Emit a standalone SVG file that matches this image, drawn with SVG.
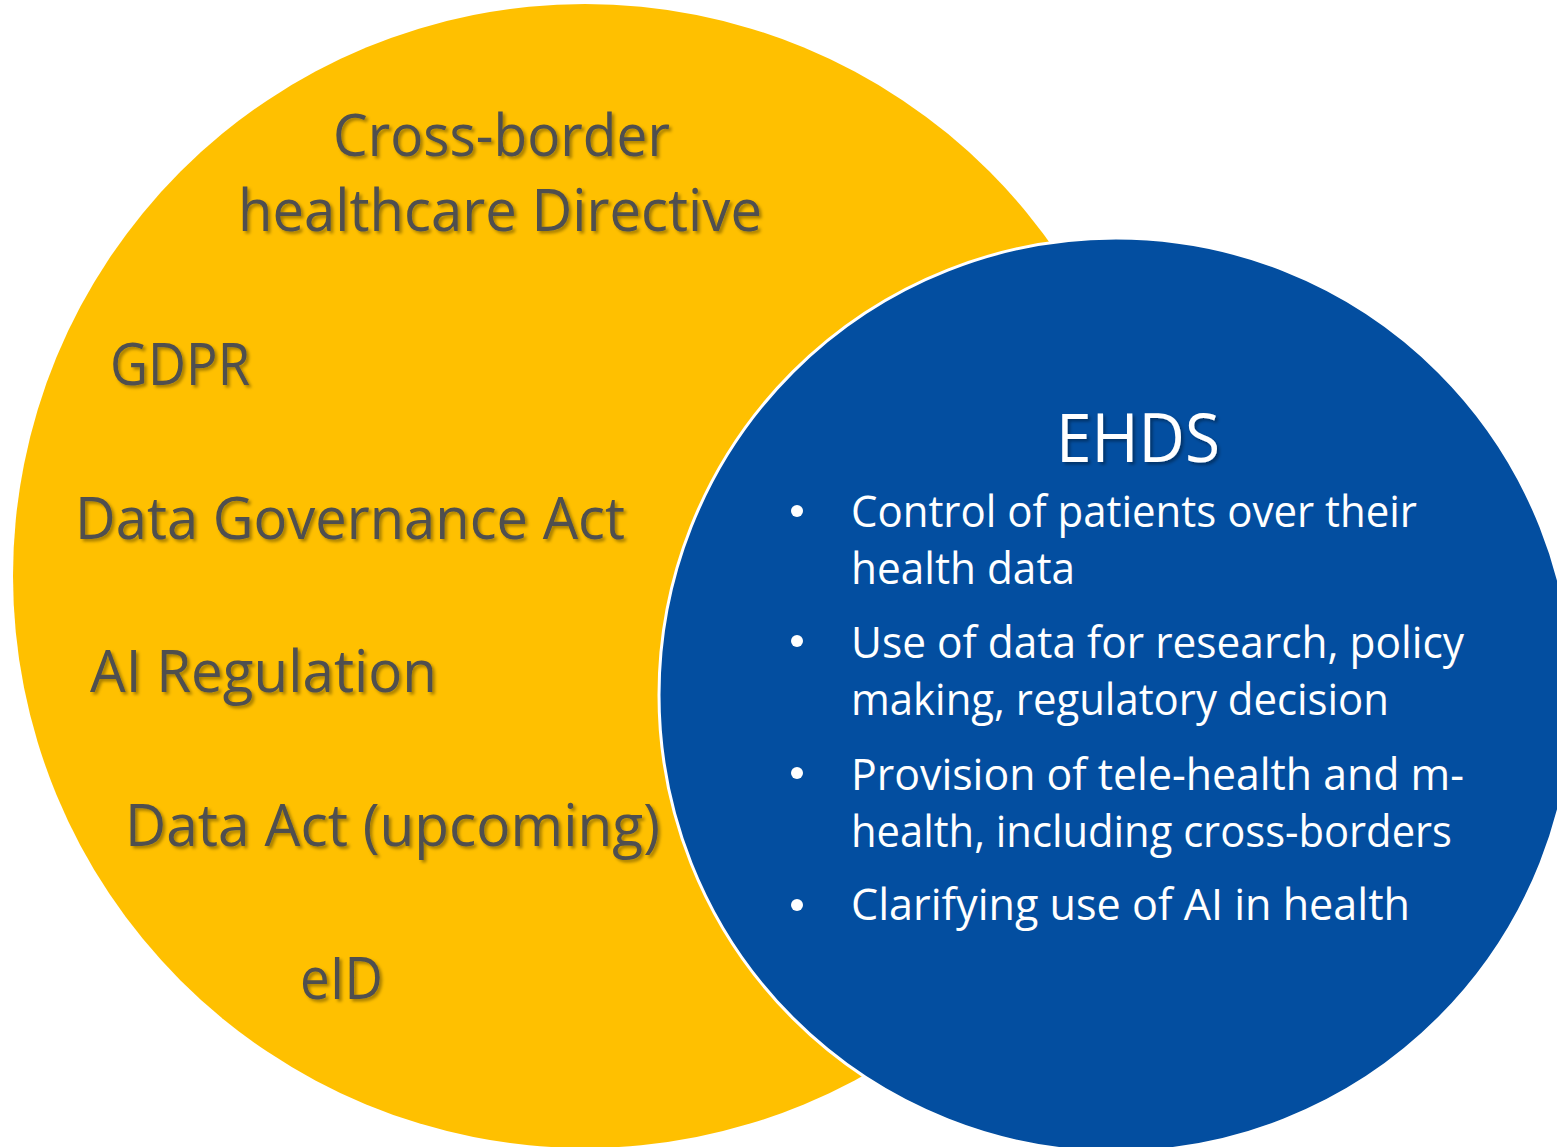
<svg xmlns="http://www.w3.org/2000/svg" width="1557" height="1147" viewBox="0 0 1557 1147">
<defs>
<filter id="sh" x="-10%" y="-30%" width="120%" height="160%">
<feDropShadow dx="2.5" dy="2.5" stdDeviation="1.5" flood-color="#000" flood-opacity="0.35"/>
</filter>
<style>
.y{font-family:"Open Sans","Liberation Sans",sans-serif;font-size:58px;fill:#4f4f4f;filter:url(#sh)}
.b{font-family:"Open Sans","Liberation Sans",sans-serif;font-size:44px;fill:#ffffff}
.t{font-family:"Open Sans","Liberation Sans",sans-serif;font-size:68px;fill:#ffffff;filter:url(#sh)}
</style>
</defs>
<rect width="1557" height="1147" fill="#ffffff"/>
<g id="yellow">
<circle cx="585" cy="576" r="572" fill="#FFC000"/>
<text class="y" x="333" y="156" textLength="337" lengthAdjust="spacingAndGlyphs">Cross-border</text>
<text class="y" x="238" y="231" textLength="524" lengthAdjust="spacingAndGlyphs">healthcare Directive</text>
<text class="y" x="110" y="385" textLength="140" lengthAdjust="spacingAndGlyphs">GDPR</text>
<text class="y" x="75" y="539" textLength="550" lengthAdjust="spacingAndGlyphs">Data Governance Act</text>
<text class="y" x="90" y="692" textLength="347" lengthAdjust="spacingAndGlyphs">AI Regulation</text>
<text class="y" x="125" y="846" textLength="535" lengthAdjust="spacingAndGlyphs">Data Act (upcoming)</text>
<text class="y" x="300" y="999" textLength="83" lengthAdjust="spacingAndGlyphs">eID</text>
</g>
<g id="blue">
<circle cx="1116" cy="695" r="457" fill="#034EA0" stroke="#ffffff" stroke-width="3"/>
<text class="t" x="1056" y="462" textLength="164" lengthAdjust="spacingAndGlyphs">EHDS</text>
<circle cx="797" cy="511" r="6" fill="#ffffff"/>
<circle cx="797" cy="641" r="6" fill="#ffffff"/>
<circle cx="797" cy="773" r="6" fill="#ffffff"/>
<circle cx="797" cy="905" r="6" fill="#ffffff"/>
<text class="b" x="851" y="527" textLength="566" lengthAdjust="spacingAndGlyphs">Control of patients over their</text>
<text class="b" x="851" y="584" textLength="224" lengthAdjust="spacingAndGlyphs">health data</text>
<text class="b" x="851" y="658" textLength="613" lengthAdjust="spacingAndGlyphs">Use of data for research, policy</text>
<text class="b" x="851" y="715" textLength="538" lengthAdjust="spacingAndGlyphs">making, regulatory decision</text>
<text class="b" x="851" y="790" textLength="613" lengthAdjust="spacingAndGlyphs">Provision of tele-health and m-</text>
<text class="b" x="851" y="847" textLength="601" lengthAdjust="spacingAndGlyphs">health, including cross-borders</text>
<text class="b" x="851" y="920" textLength="559" lengthAdjust="spacingAndGlyphs">Clarifying use of AI in health</text>
</g>
<g id="connectors"></g>
</svg>
